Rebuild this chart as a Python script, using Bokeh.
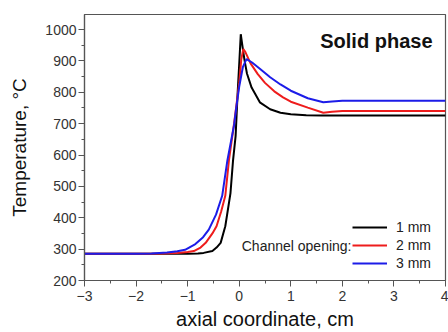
from bokeh.plotting import figure
from bokeh.models import Range1d, SingleIntervalTicker, Legend, LegendItem, Label
from bokeh.embed import file_html
from bokeh.resources import INLINE

# ---- data ----
x_1mm = [-3, -2, -1.5, -1.0, -0.8, -0.69, -0.52, -0.44, -0.36, -0.27, -0.17, -0.12,
         -0.07, -0.03, 0.0, 0.03, 0.06, 0.1, 0.15, 0.24, 0.4, 0.6, 0.8, 1.0, 1.3, 1.6,
         2.0, 3.0, 4.0]
t_1mm = [285, 285, 285, 285, 286, 288, 294, 305, 320, 373, 478, 582,
         660, 800, 890, 985, 950, 905, 860, 815, 768, 746, 735, 730, 727, 726,
         726, 726, 726]

x_2mm = [-3, -2, -1.5, -1.2, -1.0, -0.88, -0.75, -0.65, -0.52, -0.44, -0.35, -0.27,
         -0.2, -0.1, -0.05, 0.0, 0.04, 0.08, 0.12, 0.22, 0.36, 0.5, 0.68, 0.85, 1.0,
         1.33, 1.63, 1.8, 2.0, 3.0, 4.0]
t_2mm = [285, 285, 286, 288, 291, 294, 305, 320, 350, 373, 420, 470,
         582, 700, 765, 830, 905, 938, 928, 892, 858, 830, 803, 784, 770,
         751, 735, 738, 740, 740, 740]

x_3mm = [-3, -2, -1.7, -1.4, -1.2, -1.05, -0.85, -0.7, -0.59, -0.45, -0.33, -0.23,
         -0.1, -0.05, 0.0, 0.07, 0.14, 0.25, 0.4, 0.6, 0.8, 1.0, 1.33, 1.63, 1.8,
         2.0, 3.0, 4.0]
t_3mm = [285, 285, 286, 289, 293, 298, 316, 338, 362, 410, 470, 582,
         695, 760, 818, 880, 906, 895, 875, 848, 825, 805, 781, 768, 771,
         773, 773, 773]

labels = ["1 mm", "2 mm", "3 mm"]
colors = ["#000000", "#ee1c1c", "#1c1ce8"]

FONT = "Liberation Sans"

p = figure(width=448, height=332, output_backend="svg", toolbar_location=None,
           x_range=Range1d(-3, 4), y_range=Range1d(200, 1048),
           min_border_left=84, min_border_right=3, min_border_top=14,
           min_border_bottom=49)

p.xgrid.visible = False
p.ygrid.visible = False
p.outline_line_color = "#555555"
p.outline_line_width = 1.2
p.background_fill_color = "white"
p.border_fill_color = "white"

p.xaxis.ticker = SingleIntervalTicker(interval=1, num_minor_ticks=2)
p.yaxis.ticker = SingleIntervalTicker(interval=100, num_minor_ticks=2)

for ax in (p.xaxis[0], p.yaxis[0]):
    ax.axis_line_color = "#555555"
    ax.axis_line_width = 1.2
    ax.major_tick_line_color = "#555555"
    ax.minor_tick_line_color = "#555555"
    ax.major_tick_in = 0
    ax.major_tick_out = 6
    ax.minor_tick_in = 0
    ax.minor_tick_out = 3
    ax.major_label_text_font = FONT
    ax.major_label_text_font_size = "14px"
    ax.major_label_text_color = "#333333"
    ax.axis_label_text_font = FONT
    ax.axis_label_text_font_style = "normal"
    ax.axis_label_text_color = "#111111"

p.xaxis.axis_label = "axial coordinate, cm"
p.xaxis.axis_label_text_font_size = "20px"
p.xaxis.major_label_standoff = 4
p.xaxis.axis_label_standoff = 4

p.yaxis.axis_label = "Temperature, °C"
p.yaxis.axis_label_text_font_size = "19px"
p.yaxis.major_label_standoff = 2
p.yaxis.axis_label_standoff = 12

renderers = []
for xs, ts, c in zip([x_1mm, x_2mm, x_3mm], [t_1mm, t_2mm, t_3mm], colors):
    r = p.line(xs, ts, line_color=c, line_width=2)
    renderers.append(r)

legend = Legend(items=[LegendItem(label=l, renderers=[r]) for l, r in zip(labels, renderers)],
                location=(264, 5), orientation="vertical",
                glyph_width=35, glyph_height=16, label_height=16, spacing=2,
                label_standoff=9, padding=4, margin=0,
                label_text_font=FONT, label_text_font_size="14px",
                label_text_color="#222222",
                border_line_alpha=0, background_fill_alpha=0)
p.add_layout(legend, "center")

p.add_layout(Label(x=267, y=35, x_units="screen", y_units="screen",
                   text="Channel opening:", text_align="right", text_baseline="middle",
                   text_font=FONT, text_font_size="14px", text_color="#222222"))

p.add_layout(Label(x=348, y=240, x_units="screen", y_units="screen",
                   text="Solid phase", text_align="right", text_baseline="alphabetic",
                   text_font=FONT, text_font_size="20px", text_font_style="bold",
                   text_color="#111111"))

open("out.html", "w").write(file_html(p, INLINE))
